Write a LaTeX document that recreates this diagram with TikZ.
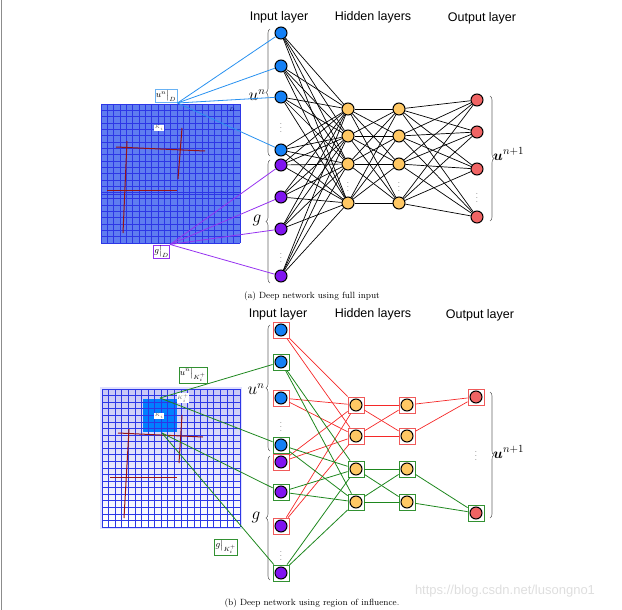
\documentclass[tikz,border=0pt]{standalone}
\usepackage{amsmath}
\usepackage{fontspec}
\setsansfont{Liberation Sans}
\usetikzlibrary{decorations.pathreplacing,calc}
\definecolor{nblue}{RGB}{20,128,245}
\definecolor{npurple}{RGB}{128,20,240}
\definecolor{nhid}{RGB}{255,200,100}
\definecolor{nout}{RGB}{240,100,100}
\definecolor{lblue}{RGB}{40,145,240}
\definecolor{lpurple}{RGB}{150,50,240}
\definecolor{gfill}{RGB}{95,125,240}
\definecolor{gline}{RGB}{45,55,230}
\definecolor{dred}{RGB}{150,20,20}
\definecolor{egreen}{RGB}{30,135,30}
\definecolor{ered}{RGB}{245,40,40}
\definecolor{bred}{RGB}{240,90,90}
\definecolor{bgreen}{RGB}{50,145,50}
\definecolor{hibox}{RGB}{0,128,255}
\tikzset{
  neur/.style={circle,draw=black,line width=1pt,minimum size=12pt,inner sep=0pt},
  inb/.style={neur,fill=nblue},
  inp/.style={neur,fill=npurple},
  hid/.style={neur,fill=nhid},
  outn/.style={neur,fill=nout},
  rbox/.style={rectangle,draw=bred,line width=0.8pt,minimum size=16pt,inner sep=0pt},
  gbox/.style={rectangle,draw=bgreen,line width=0.8pt,minimum size=16pt,inner sep=0pt},
  ttl/.style={font=\sffamily\fontsize{12.5}{14}\selectfont},
  captxt/.style={font=\fontsize{9}{10}\selectfont},
  dotsn/.style={font=\fontsize{7}{8}\selectfont,inner sep=0pt},
  econ/.style={black,line width=0.7pt},
  er/.style={ered,line width=0.7pt},
  eg/.style={egreen,line width=0.8pt},
  brc/.style={decorate,decoration={brace,amplitude=4pt},draw=black!60,line width=0.6pt},
  tinylab/.style={font=\fontsize{4.5}{5}\selectfont,inner sep=0.6pt},
  glab/.style={font=\fontsize{9}{10}\selectfont,inner sep=1pt,fill=white},
  bigl/.style={font=\fontsize{16}{16}\selectfont,inner sep=1pt},
  outl/.style={font=\fontsize{15.5}{16}\selectfont,anchor=west,inner sep=1pt},
}
\begin{document}
\begin{tikzpicture}[x=1pt,y=-1pt]
\useasboundingbox (0,0) rectangle (622,610);
\draw[black!45,line width=0.8pt] (1.5,0) -- (1.5,610);

% ===================== (a) =====================
\fill[gfill] (101,104) rectangle (240,243);
\foreach \i in {0,...,22}{
  \draw[gline,line width=0.55pt] ({101+\i*139/22},104) -- ({101+\i*139/22},243);
  \draw[gline,line width=0.55pt] (101,{104+\i*139/22}) -- (240,{104+\i*139/22});
}
\draw[gline,line width=0.9pt] (101,194) -- (240,194);
\draw[dred,line width=1pt] (116,147) -- (205,151);
\draw[dred,line width=1pt] (127,141) -- (123,233);
\draw[dred,line width=1pt] (182,128) -- (178,179);
\draw[dred,line width=1pt] (107,190) -- (177,190);
\node[tinylab,text=blue!40!black] (aD) at (232,110) {$D$};
\node[tinylab,fill=white,text=black!60] (aK) at (159,128) {$K_i$};

\node[ttl] (ta1) at (279,17) {Input layer};
\node[ttl] (ta2) at (373,17) {Hidden layers};
\node[ttl] (ta3) at (482,18) {Output layer};

\node[inb] (I1) at (281,33) {};
\node[inb] (I2) at (281,66) {};
\node[inb] (I3) at (281,97) {};
\node[dotsn] (Id1) at (281,125) {$\vdots$};
\node[inb] (I4) at (281,150) {};
\node[inp] (I5) at (281,165) {};
\node[inp] (I6) at (281,197) {};
\node[inp] (I7) at (281,229) {};
\node[dotsn] (Id2) at (281,255) {$\vdots$};
\node[inp] (I8) at (281,276) {};

\foreach \j/\y in {1/109,2/136,3/164,4/203}{
  \node[hid] (H\j) at (348,\y) {};
  \node[hid] (G\j) at (399,\y) {};
}
\node[dotsn] (Hd) at (348,184) {$\vdots$};
\node[dotsn] (Gd) at (399,184) {$\vdots$};
\foreach \j/\y in {1/100,2/132,3/169,4/217}{
  \node[outn] (O\j) at (477,\y) {};
}
\node[dotsn] (Od) at (477,195) {$\vdots$};

\foreach \i in {1,...,8}{\foreach \j in {1,...,4}{\draw[econ] (I\i) -- (H\j);}}
\foreach \i in {1,...,4}{\foreach \j in {1,...,4}{\draw[econ] (H\i) -- (G\j); \draw[econ] (G\i) -- (O\j);}}

\coordinate (bua1) at (270,156);
\coordinate (bua2) at (270,29);
\draw[brc] (bua1) -- (bua2);
\coordinate (bga1) at (270,283);
\coordinate (bga2) at (270,160);
\draw[brc] (bga1) -- (bga2);
\coordinate (boa1) at (490,96);
\coordinate (boa2) at (490,221);
\draw[brc] (boa1) -- (boa2);
\node[bigl] (lua) at (257,95) {$u^n$};
\node[bigl] (lga) at (257,220) {$g$};
\node[outl] (loa) at (492,154) {$\boldsymbol{u}^{n+1}$};

\node[glab,draw=lblue!70,line width=0.7pt] (lu) at (166,96) {$u^n\big|_D$};
\node[glab,draw=lpurple,line width=0.7pt] (lg) at (161.5,251.5) {$g\big|_D$};
\foreach \i in {1,...,4}{\draw[lblue,line width=0.8pt] (lu.south east) -- (I\i);}
\foreach \i in {5,...,8}{\draw[lpurple,line width=0.8pt] (lg.north east) -- (I\i);}

\node[captxt] (capa) at (312,296) {(a) Deep network using full input};

% ===================== (b) =====================
\fill[blue!12] (100,387) rectangle (242,529);
\shade[top color={rgb,255:red,200;green,200;blue,245},bottom color=white] (102,389) rectangle (240,527);
\fill[hibox] (143,399) rectangle (177,432);
\foreach \i in {0,...,21}{
  \draw[gline,line width=0.55pt] ({102+\i*138/21},389) -- ({102+\i*138/21},527);
  \draw[gline,line width=0.55pt] (102,{389+\i*138/21}) -- (240,{389+\i*138/21});
}
\draw[dred,line width=1pt] (118,433) -- (203,437);
\draw[dred,line width=1pt] (129,429) -- (124,518);
\draw[dred,line width=1pt] (182,415) -- (179,463);
\draw[dred,line width=1pt] (110,477) -- (177,477);
\node[tinylab,fill=white,text=black!60] (bK) at (159,416) {$K_i$};
\node[tinylab,fill=white,text=black!60] (bKp) at (183,398) {$K_i^+$};

\node[ttl] (tb1) at (278,314) {Input layer};
\node[ttl] (tb2) at (373,314) {Hidden layers};
\node[ttl] (tb3) at (480,315) {Output layer};

\foreach \i/\y/\bs/\ns in {1/330/rbox/inb,2/362/gbox/inb,3/398/rbox/inb,4/445/gbox/inb,5/462/rbox/inp,6/492/gbox/inp,7/526/rbox/inp,8/573/gbox/inp}{
  \node[\bs] (bI\i) at (281,\y) {};
  \node[\ns] (cI\i) at (281,\y) {};
}
\node[dotsn] (bId1) at (281,424) {$\vdots$};
\node[dotsn] (bId2) at (281,553) {$\vdots$};
\foreach \j/\y/\bs in {1/405/rbox,2/436/rbox,3/469/gbox,4/502/gbox}{
  \node[\bs] (bH\j) at (356,\y) {};
  \node[hid] (cH\j) at (356,\y) {};
  \node[\bs] (bG\j) at (407,\y) {};
  \node[hid] (cG\j) at (407,\y) {};
}
\node[rbox] (bO1) at (476,397) {};
\node[outn] (cO1) at (476,397) {};
\node[gbox] (bO2) at (476,513) {};
\node[outn] (cO2) at (476,513) {};
\node[dotsn] (bOd) at (476,453) {$\vdots$};

\foreach \i in {1,3,5,7}{\foreach \j in {1,2}{\draw[er] (bI\i) -- (bH\j);}}
\foreach \i in {2,4,6,8}{\foreach \j in {3,4}{\draw[eg] (bI\i) -- (bH\j);}}
\foreach \i in {1,2}{\foreach \j in {1,2}{\draw[er] (bH\i) -- (bG\j);} \draw[er] (bG\i) -- (bO1);}
\foreach \i in {3,4}{\foreach \j in {3,4}{\draw[eg] (bH\i) -- (bG\j);} \draw[eg] (bG\i) -- (bO2);}

\coordinate (bub1) at (270,451);
\coordinate (bub2) at (270,325);
\draw[brc] (bub1) -- (bub2);
\coordinate (bgb1) at (270,580);
\coordinate (bgb2) at (270,456);
\draw[brc] (bgb1) -- (bgb2);
\coordinate (bob1) at (490,392);
\coordinate (bob2) at (490,518);
\draw[brc] (bob1) -- (bob2);
\node[bigl] (lub) at (256,389) {$u^n$};
\node[bigl] (lgb) at (256,517) {$g$};
\node[outl] (lob) at (492,452) {$\boldsymbol{u}^{n+1}$};

\coordinate (pA) at (160,398);
\coordinate (pB) at (162,433);
\draw[eg] (pA) -- (bI2);
\draw[eg] (pA) -- (bI4);
\draw[eg] (pB) -- (bI6);
\draw[eg] (pB) -- (bI8);
\node[glab,draw=bgreen,line width=0.7pt] (lbu) at (193,375) {$u^n\big|_{K_i^+}$};
\node[glab,draw=bgreen,line width=0.7pt] (lbg) at (226,547) {$g\big|_{K_i^+}$};

\node[captxt] (capb) at (312,603) {(b) Deep network using region of influence.};
\node[font=\sffamily\fontsize{13}{13}\selectfont,text=black!13] (wm) at (505,591) {https://blog.csdn.net/lusongno1};
\end{tikzpicture}
\end{document}
